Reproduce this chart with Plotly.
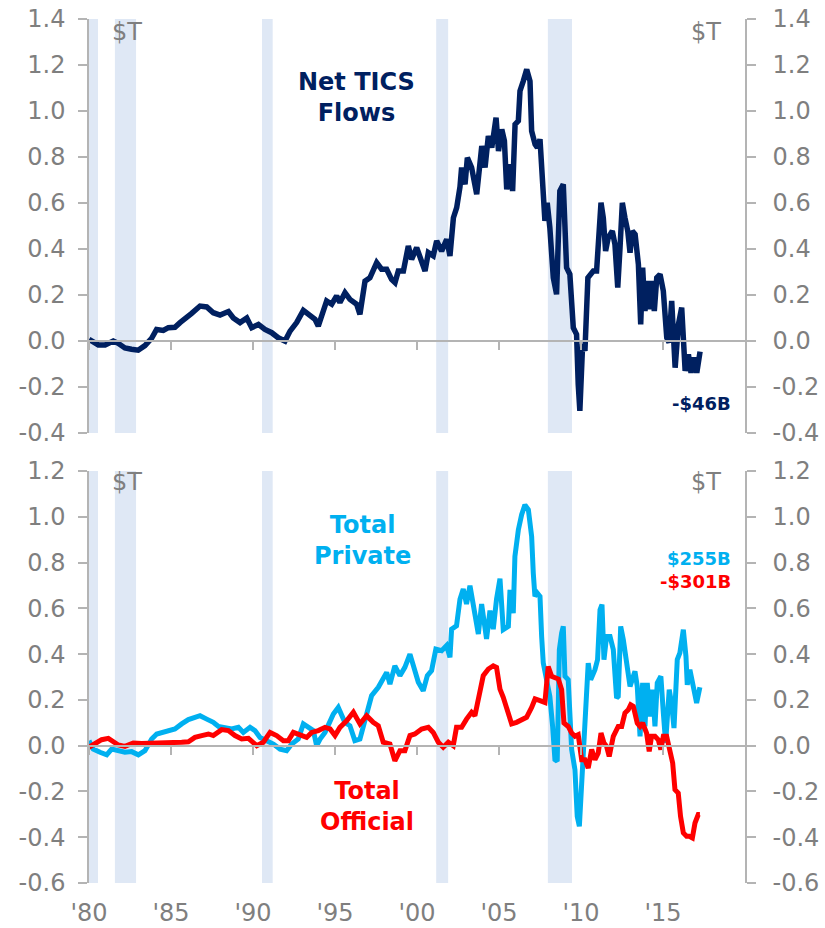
import plotly.graph_objects as go

# ---------------- data ----------------
tics_years = [1980.0, 1980.57, 1980.98, 1981.48, 1981.78, 1982.19, 1982.59, 1983.0, 1983.41, 1983.82,
              1984.12, 1984.53, 1984.84, 1985.24, 1985.55, 1985.85, 1986.26, 1986.77, 1987.18, 1987.58,
              1987.99, 1988.5, 1988.8, 1989.21, 1989.62, 1989.92, 1990.33, 1990.73, 1991.14, 1991.54,
              1991.95, 1992.26, 1992.66, 1993.07, 1993.37, 1993.78, 1993.98, 1994.19, 1994.49, 1994.8,
              1995.1, 1995.3, 1995.61, 1995.91, 1996.32, 1996.52, 1996.83, 1997.13, 1997.54, 1997.84,
              1998.15, 1998.45, 1998.66, 1998.86, 1999.17, 1999.47, 1999.67, 1999.98, 2000.28, 2000.49,
              2000.69, 2000.99, 2001.2, 2001.5, 2001.81, 2002.01, 2002.22, 2002.42, 2002.62, 2002.72,
              2002.93, 2003.07, 2003.33, 2003.64, 2003.95, 2004.15, 2004.35, 2004.56, 2004.82, 2004.97,
              2005.17, 2005.33, 2005.47, 2005.67, 2005.83, 2005.98, 2006.18, 2006.28, 2006.48, 2006.69,
              2006.89, 2006.99, 2007.2, 2007.34, 2007.5, 2007.66, 2007.8, 2007.94, 2008.1, 2008.31,
              2008.51, 2008.71, 2008.92, 2009.12, 2009.32, 2009.53, 2009.73, 2009.83, 2009.93, 2010.1,
              2010.24, 2010.42, 2010.75, 2010.95, 2011.1, 2011.22, 2011.36, 2011.5, 2011.66, 2011.91,
              2012.07, 2012.24, 2012.38, 2012.52, 2012.68, 2012.85, 2012.99, 2013.13, 2013.3, 2013.5,
              2013.64, 2013.76, 2013.9, 2014.07, 2014.21, 2014.35, 2014.47, 2014.62, 2014.82, 2015.02,
              2015.23, 2015.37, 2015.53, 2015.74, 2015.94, 2016.14, 2016.35, 2016.55, 2016.71, 2016.91,
              2017.06, 2017.26]
tics_values = [0.007, -0.017, -0.017, 0.0, -0.01, -0.03, -0.036, -0.04, -0.02, 0.012,
               0.05, 0.046, 0.058, 0.06, 0.08, 0.094, 0.12, 0.152, 0.148, 0.123,
               0.113, 0.128, 0.10, 0.08, 0.10, 0.058, 0.072, 0.05, 0.036, 0.014,
               0.0, 0.043, 0.08, 0.133, 0.116, 0.094, 0.065, 0.116, 0.174, 0.16,
               0.196, 0.167, 0.21, 0.181, 0.16, 0.116, 0.26, 0.275, 0.341, 0.312,
               0.312, 0.268, 0.254, 0.304, 0.304, 0.413, 0.355, 0.406, 0.341, 0.304,
               0.384, 0.370, 0.435, 0.391, 0.442, 0.370, 0.536, 0.58, 0.67, 0.754,
               0.681, 0.797, 0.754, 0.638, 0.848, 0.754, 0.891, 0.841, 0.971, 0.826,
               0.920, 0.870, 0.659, 0.768, 0.652, 0.942, 0.957, 1.087, 1.13, 1.181,
               1.13, 0.913, 0.855, 0.841, 0.877, 0.652, 0.522, 0.601, 0.493, 0.275,
               0.203, 0.652, 0.681, 0.319, 0.290, 0.058, 0.029, -0.188, -0.304, -0.014,
               -0.043, 0.275, 0.304, 0.304, 0.435, 0.601, 0.536, 0.391, 0.449, 0.478,
               0.420, 0.232, 0.406, 0.601, 0.536, 0.478, 0.384, 0.478, 0.464, 0.333,
               0.072, 0.319, 0.130, 0.261, 0.138, 0.261, 0.130, 0.275, 0.290, 0.217,
               0.014, -0.007, 0.174, -0.116, 0.072, 0.145, -0.130, -0.058, -0.138, -0.072,
               -0.138, -0.046]

private_years = [1980.0, 1980.26, 1980.67, 1981.08, 1981.38, 1981.79, 1982.19, 1982.6, 1983.01, 1983.41,
                 1983.82, 1984.13, 1984.53, 1984.94, 1985.24, 1985.65, 1986.06, 1986.46, 1986.77, 1987.18,
                 1987.58, 1987.89, 1988.29, 1988.7, 1989.11, 1989.41, 1989.82, 1990.12, 1990.43, 1990.84,
                 1991.24, 1991.65, 1992.05, 1992.36, 1992.76, 1993.07, 1993.37, 1993.68, 1993.88, 1994.09,
                 1994.39, 1994.9, 1995.2, 1995.6, 1995.91, 1996.21, 1996.52, 1996.82, 1997.23, 1997.64,
                 1997.94, 1998.15, 1998.35, 1998.65, 1998.96, 1999.26, 1999.57, 1999.87, 2000.08, 2000.38,
                 2000.63, 2000.89, 2001.15, 2001.5, 2001.8, 2002.01, 2002.11, 2002.41, 2002.62, 2002.82,
                 2003.02, 2003.23, 2003.53, 2003.74, 2003.94, 2004.24, 2004.45, 2004.65, 2004.85, 2005.06,
                 2005.26, 2005.57, 2005.67, 2005.87, 2005.97, 2006.18, 2006.38, 2006.58, 2006.79, 2006.99,
                 2007.09, 2007.19, 2007.33, 2007.5, 2007.6, 2007.7, 2007.9, 2008.1, 2008.27, 2008.41,
                 2008.55, 2008.68, 2008.82, 2008.92, 2009.02, 2009.22, 2009.33, 2009.43, 2009.63, 2009.77,
                 2009.9, 2010.04, 2010.24, 2010.44, 2010.59, 2010.85, 2011.01, 2011.16, 2011.28, 2011.4,
                 2011.56, 2011.77, 2011.97, 2012.17, 2012.27, 2012.42, 2012.58, 2012.78, 2012.99, 2013.19,
                 2013.29, 2013.43, 2013.6, 2013.76, 2013.9, 2014.04, 2014.2, 2014.37, 2014.51, 2014.65,
                 2014.87, 2015.02, 2015.16, 2015.38, 2015.52, 2015.67, 2015.87, 2016.03, 2016.24, 2016.4,
                 2016.48, 2016.64, 2016.81, 2016.95, 2017.05, 2017.25]
private_values = [0.022, -0.015, -0.029, -0.04, -0.015, -0.022, -0.029, -0.026, -0.04, -0.022,
                  0.029, 0.051, 0.058, 0.066, 0.073, 0.095, 0.114, 0.124, 0.131, 0.116,
                  0.102, 0.084, 0.08, 0.073, 0.08, 0.058, 0.08, 0.066, 0.036, 0.022,
                  0.007, -0.015, -0.022, 0.007, 0.029, 0.095, 0.08, 0.066, 0.0, 0.029,
                  0.058, 0.138, 0.167, 0.102, 0.087, 0.022, 0.029, 0.102, 0.218, 0.255,
                  0.291, 0.32, 0.269, 0.349, 0.306, 0.342, 0.40, 0.335, 0.277, 0.24,
                  0.306, 0.328, 0.422, 0.415, 0.437, 0.386, 0.509, 0.524, 0.64, 0.684,
                  0.619, 0.699, 0.582, 0.488, 0.619, 0.466, 0.59, 0.509, 0.64, 0.73,
                  0.507, 0.521, 0.681, 0.579, 0.827, 0.943, 1.009, 1.052, 1.031, 0.914,
                  0.754, 0.652, 0.667, 0.652, 0.477, 0.361, 0.288, 0.215, 0.084, -0.061,
                  -0.068, 0.419, 0.492, 0.521, 0.303, 0.288, 0.128, -0.017, -0.105, -0.309,
                  -0.352, -0.163, 0.055, 0.361, 0.288, 0.332, 0.376, 0.594, 0.616, 0.376,
                  0.477, 0.477, 0.419, 0.208, 0.215, 0.521, 0.463, 0.361, 0.259, 0.303,
                  0.325, 0.259, 0.041, 0.274, 0.084, 0.274, 0.128, 0.245, 0.084, 0.274,
                  0.303, 0.143, 0.012, 0.245, 0.186, 0.077, 0.376, 0.405, 0.507, 0.39,
                  0.266, 0.332, 0.274, 0.223, 0.186, 0.255]

official_years = [1980.0, 1980.37, 1980.77, 1981.18, 1981.38, 1981.79, 1982.19, 1982.7, 1983.21, 1983.82,
                  1984.43, 1985.04, 1985.65, 1986.06, 1986.46, 1986.87, 1987.28, 1987.58, 1988.09, 1988.5,
                  1988.9, 1989.31, 1989.72, 1990.23, 1990.63, 1991.04, 1991.44, 1991.85, 1992.15, 1992.46,
                  1992.87, 1993.27, 1993.58, 1993.98, 1994.39, 1994.7, 1995.0, 1995.3, 1995.71, 1996.12,
                  1996.52, 1996.93, 1997.33, 1997.64, 1997.94, 1998.35, 1998.65, 1998.96, 1999.26, 1999.57,
                  1999.87, 2000.28, 2000.69, 2000.99, 2001.3, 2001.6, 2001.91, 2002.21, 2002.41, 2002.72,
                  2003.02, 2003.33, 2003.53, 2003.74, 2004.04, 2004.35, 2004.65, 2004.85, 2005.06, 2005.26,
                  2005.46, 2005.77, 2006.07, 2006.38, 2006.68, 2006.99, 2007.2, 2007.5, 2007.8, 2008.0,
                  2008.21, 2008.62, 2008.82, 2008.96, 2009.22, 2009.43, 2009.63, 2009.83, 2010.04, 2010.24,
                  2010.44, 2010.65, 2010.85, 2011.05, 2011.22, 2011.4, 2011.56, 2011.72, 2011.97, 2012.27,
                  2012.48, 2012.68, 2012.88, 2013.03, 2013.19, 2013.43, 2013.6, 2013.76, 2014.0, 2014.16,
                  2014.3, 2014.51, 2014.71, 2014.87, 2015.02, 2015.22, 2015.38, 2015.59, 2015.73, 2015.93,
                  2016.07, 2016.24, 2016.44, 2016.6, 2016.79, 2016.95, 2017.15, 2017.25]
official_values = [-0.007, 0.007, 0.026, 0.032, 0.022, 0.003, -0.003, 0.012, 0.01, 0.01,
                   0.012, 0.015, 0.015, 0.017, 0.036, 0.044, 0.051, 0.044, 0.07, 0.066,
                   0.044, 0.029, 0.032, 0.0, 0.015, 0.058, 0.044, 0.022, 0.022, 0.058,
                   0.044, 0.036, 0.058, 0.066, 0.08, 0.073, 0.044, 0.08, 0.109, 0.146,
                   0.095, 0.131, 0.102, 0.087, 0.015, 0.007, -0.066, -0.022, -0.022, 0.044,
                   0.051, 0.073, 0.08, 0.058, 0.015, -0.007, 0.015, 0.0, 0.08, 0.08,
                   0.116, 0.146, 0.131, 0.197, 0.306, 0.335, 0.349, 0.342, 0.247, 0.211,
                   0.16, 0.095, 0.102, 0.116, 0.124, 0.167, 0.204, 0.197, 0.189, 0.346,
                   0.303, 0.291, 0.245, 0.099, 0.084, 0.055, 0.041, 0.048, -0.061, -0.061,
                   -0.098, -0.017, -0.061, -0.032, 0.055, 0.012, -0.003, -0.047, 0.041, 0.084,
                   0.084, 0.143, 0.157, 0.179, 0.172, 0.099, 0.084, 0.099, 0.055, -0.025,
                   0.041, 0.041, 0.026, -0.017, 0.041, 0.041, -0.003, -0.076, -0.192, -0.207,
                   -0.309, -0.381, -0.396, -0.396, -0.403, -0.338, -0.301, -0.301]

recession_start = [1980.0, 1981.58, 1990.55, 2001.17, 2007.98]
recession_end = [1980.55, 1982.87, 1991.2, 2001.9, 2009.45]

x_tick_years = [1980, 1985, 1990, 1995, 2000, 2005, 2010, 2015]
x_tick_labels = ["'80", "'85", "'90", "'95", "'00", "'05", "'10", "'15"]
top_tick_vals = [-0.4, -0.2, 0.0, 0.2, 0.4, 0.6, 0.8, 1.0, 1.2, 1.4]
top_tick_text = ["-0.4", "-0.2", "0.0", "0.2", "0.4", "0.6", "0.8", "1.0", "1.2", "1.4"]
bot_tick_vals = [-0.6, -0.4, -0.2, 0.0, 0.2, 0.4, 0.6, 0.8, 1.0, 1.2]
bot_tick_text = ["-0.6", "-0.4", "-0.2", "0.0", "0.2", "0.4", "0.6", "0.8", "1.0", "1.2"]

# ---------------- style ----------------
NAVY = "#002060"
LIGHTBLUE = "#00B0F0"
RED = "#FF0000"
GRAY_TXT = "#7F7F7F"
AXIS = "#B4B4B4"
BAND = "#DFE8F5"
FONT = "DejaVu Sans"

W, H = 825, 928
ML, MR, MT, MB = 89, 80, 19, 45
PH = H - MT - MB
top_dom = [(H - MB - 433) / PH, 1.0]
bot_dom = [0.0, (H - MB - 471) / PH]
top_range = [-0.4, 1.4]
bot_range = [-0.6, 1.2]
top_zero = top_dom[0] + (0 - top_range[0]) / (top_range[1] - top_range[0]) * (top_dom[1] - top_dom[0])
bot_zero = bot_dom[0] + (0 - bot_range[0]) / (bot_range[1] - bot_range[0]) * (bot_dom[1] - bot_dom[0])

fig = go.Figure()
fig.add_trace(go.Scatter(x=tics_years, y=tics_values, mode="lines", xaxis="x", yaxis="y",
                         line=dict(color=NAVY, width=5.5), showlegend=False, name="Net TICS Flows"))
fig.add_trace(go.Scatter(x=private_years, y=private_values, mode="lines", xaxis="x2", yaxis="y2",
                         line=dict(color=LIGHTBLUE, width=5), showlegend=False, name="Total Private"))
fig.add_trace(go.Scatter(x=official_years, y=official_values, mode="lines", xaxis="x2", yaxis="y2",
                         line=dict(color=RED, width=5), showlegend=False, name="Total Official"))
# empty traces so the right-hand (mirror) value axes are drawn
fig.add_trace(go.Scatter(x=[], y=[], xaxis="x", yaxis="y3", showlegend=False, hoverinfo="skip"))
fig.add_trace(go.Scatter(x=[], y=[], xaxis="x2", yaxis="y4", showlegend=False, hoverinfo="skip"))

for s, e in zip(recession_start, recession_end):
    for xr, yr in (("x", "y domain"), ("x2", "y2 domain")):
        fig.add_shape(type="rect", xref=xr, yref=yr, x0=s, x1=e, y0=0, y1=1,
                      fillcolor=BAND, line=dict(width=0), layer="below")

xcommon = dict(range=[1980, 2020], domain=[0, 1], anchor="free", showline=True, linecolor=AXIS,
               linewidth=2, ticks="outside", ticklen=8, tickwidth=1.5, tickcolor=AXIS,
               tickvals=x_tick_years, showgrid=False, zeroline=False, automargin=False)
ycommon = dict(showline=True, linecolor=AXIS, linewidth=1.5, ticks="outside", ticklen=9,
               tickwidth=1.5, tickcolor=AXIS, showgrid=False, zeroline=False, automargin=False,
               tickfont=dict(family=FONT, size=24, color=GRAY_TXT))

fig.update_layout(
    width=W, height=H, margin=dict(l=ML, r=MR, t=MT, b=MB, autoexpand=False),
    paper_bgcolor="white", plot_bgcolor="white",
    font=dict(family=FONT, color=GRAY_TXT),
    xaxis=dict(**xcommon, position=top_zero, showticklabels=False),
    xaxis2=dict(**xcommon, position=bot_zero, showticklabels=True, ticktext=x_tick_labels,
                tickfont=dict(family=FONT, size=24, color=GRAY_TXT), ticklabelstandoff=138),
    yaxis=dict(**ycommon, domain=top_dom, range=top_range, anchor="x", side="left",
               tickvals=top_tick_vals, ticktext=top_tick_text, ticklabelstandoff=8),
    yaxis3=dict(**ycommon, domain=top_dom, range=top_range, anchor="x", side="right",
                overlaying="y", tickvals=top_tick_vals, ticktext=top_tick_text, ticklabelstandoff=12),
    yaxis2=dict(**ycommon, domain=bot_dom, range=bot_range, anchor="x2", side="left",
                tickvals=bot_tick_vals, ticktext=bot_tick_text, ticklabelstandoff=8),
    yaxis4=dict(**ycommon, domain=bot_dom, range=bot_range, anchor="x2", side="right",
                overlaying="y2", tickvals=bot_tick_vals, ticktext=bot_tick_text, ticklabelstandoff=12),
)

def ann(text, x, y, xr, yr, color, size, bold=True, xanchor="center"):
    fig.add_annotation(text=f"<b>{text}</b>" if bold else text, x=x, y=y, xref=xr, yref=yr,
                       showarrow=False, xanchor=xanchor, yanchor="middle",
                       font=dict(family=FONT, size=size, color=color))

ann("Net TICS<br>Flows", 1996.3, 1.06, "x", "y", NAVY, 24)
ann("Total<br>Private", 1996.65, 0.895, "x2", "y2", LIGHTBLUE, 24)
ann("Total<br>Official", 1996.95, -0.266, "x2", "y2", RED, 24)
ann("-$46B", 2019.27, -0.27, "x", "y", NAVY, 18, xanchor="right")
ann("$255B", 2019.27, 0.817, "x2", "y2", LIGHTBLUE, 18, xanchor="right")
ann("-$301B", 2019.27, 0.716, "x2", "y2", RED, 18, xanchor="right")
ann("$T", 1982.3, 1.343, "x", "y", GRAY_TXT, 24, bold=False)
ann("$T", 1982.3, 1.153, "x2", "y2", GRAY_TXT, 24, bold=False)
ann("$T", 2017.6, 1.343, "x", "y", GRAY_TXT, 24, bold=False)
ann("$T", 2017.6, 1.153, "x2", "y2", GRAY_TXT, 24, bold=False)

fig.write_html("out.html", config={"displayModeBar": False},
               post_script="document.body.style.margin='0';")
